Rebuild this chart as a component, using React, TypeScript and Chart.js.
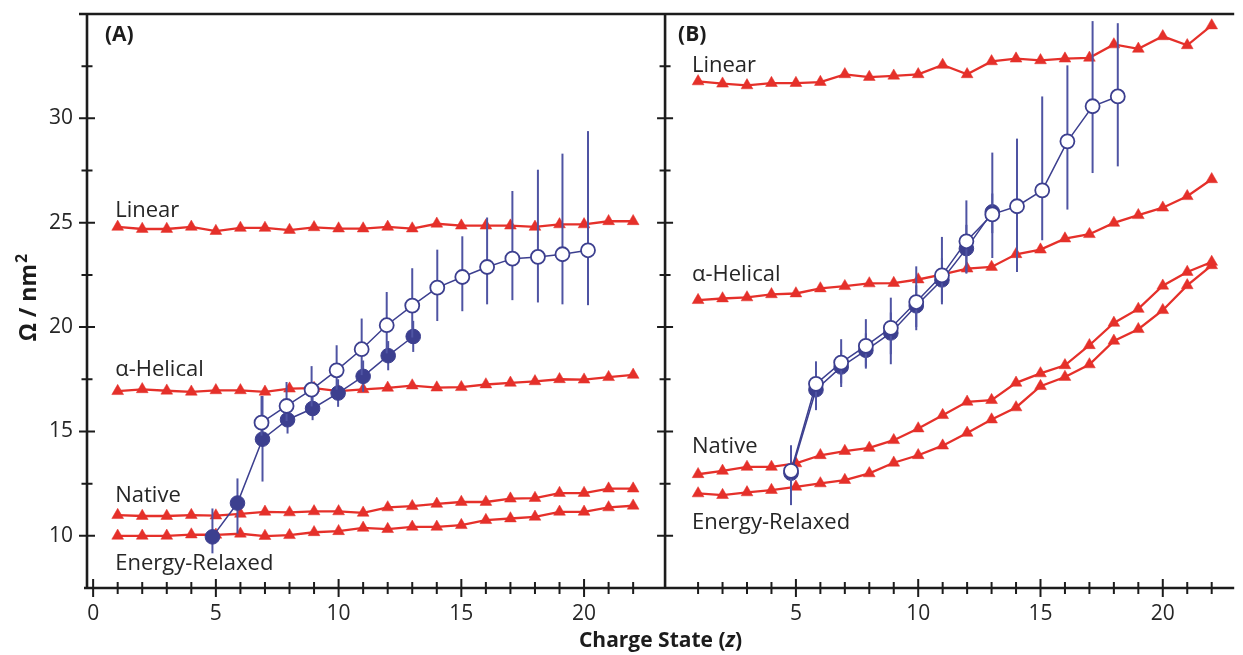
import React, { useEffect, useRef } from 'react';
import { Chart, registerables } from 'chart.js';

Chart.register(...registerables);

// ---------- data ----------
const CHARGE_STATES = [1, 2, 3, 4, 5, 6, 7, 8, 9, 10, 11, 12, 13, 14, 15, 16, 17, 18, 19, 20, 21, 22];

// Panel A (computed, red triangles)
const A_LINEAR = [24.8, 24.7, 24.7, 24.8, 24.6, 24.75, 24.75, 24.65, 24.78, 24.72, 24.72, 24.8, 24.72, 24.95, 24.86, 24.86, 24.86, 24.8, 24.92, 24.92, 25.07, 25.07];
const A_HELICAL = [16.93, 17.02, 16.95, 16.9, 16.97, 16.97, 16.9, 17.05, 17.08, 16.93, 17.02, 17.09, 17.2, 17.1, 17.12, 17.25, 17.33, 17.4, 17.5, 17.48, 17.6, 17.71];
const A_NATIVE = [10.99, 10.95, 10.95, 10.99, 10.97, 11.05, 11.15, 11.12, 11.17, 11.17, 11.1, 11.36, 11.42, 11.53, 11.62, 11.62, 11.78, 11.81, 12.05, 12.05, 12.26, 12.26];
const A_RELAXED = [10.0, 10.0, 10.0, 10.06, 10.05, 10.1, 9.99, 10.03, 10.17, 10.22, 10.38, 10.32, 10.43, 10.43, 10.51, 10.75, 10.83, 10.91, 11.15, 11.15, 11.36, 11.44];

// Panel B (computed, red triangles)
const B_LINEAR = [31.77, 31.66, 31.58, 31.69, 31.69, 31.74, 32.11, 31.98, 32.04, 32.11, 32.56, 32.11, 32.73, 32.86, 32.78, 32.86, 32.9, 33.54, 33.33, 33.93, 33.5, 34.45];
const B_HELICAL = [21.29, 21.37, 21.42, 21.57, 21.61, 21.85, 21.96, 22.09, 22.11, 22.28, 22.52, 22.8, 22.88, 23.49, 23.71, 24.24, 24.45, 24.99, 25.36, 25.72, 26.27, 27.08];
const B_NATIVE = [12.95, 13.11, 13.3, 13.3, 13.47, 13.86, 14.06, 14.21, 14.58, 15.14, 15.78, 16.42, 16.5, 17.33, 17.78, 18.17, 19.13, 20.2, 20.87, 21.98, 22.64, 23.12];
const B_RELAXED = [12.03, 11.95, 12.08, 12.19, 12.35, 12.51, 12.67, 12.99, 13.5, 13.86, 14.32, 14.93, 15.57, 16.15, 17.17, 17.61, 18.21, 19.34, 19.9, 20.81, 22.0, 22.96];

// Panel A experiment, filled circles
const A_FILLED_Z = [4.86, 5.88, 6.9, 7.92, 8.94, 9.98, 11.0, 12.02, 13.04];
const A_FILLED = [9.95, 11.57, 14.63, 15.56, 16.1, 16.84, 17.64, 18.63, 19.55];
const A_FILLED_LOW = [9.16, 10.11, 12.6, 14.9, 15.54, 16.18, 16.9, 17.93, 18.81];
const A_FILLED_HIGH = [11.31, 12.75, 16.7, 16.2, 16.66, 17.5, 18.4, 19.33, 20.3];

// Panel A experiment, open circles
const A_OPEN_Z = [6.86, 7.88, 8.9, 9.92, 10.94, 11.96, 13.0, 14.02, 15.04, 16.05, 17.08, 18.12, 19.12, 20.16];
const A_OPEN = [15.42, 16.22, 17.0, 17.93, 18.94, 20.09, 21.03, 21.89, 22.4, 22.88, 23.28, 23.36, 23.49, 23.68];
const A_OPEN_LOW = [14.8, 15.5, 16.2, 17.0, 17.7, 18.74, 19.5, 20.29, 20.76, 21.09, 21.29, 21.18, 21.09, 21.05];
const A_OPEN_HIGH = [16.7, 17.37, 18.13, 19.13, 20.41, 21.68, 22.82, 23.71, 24.35, 25.25, 26.52, 27.54, 28.31, 29.39];

// Panel B experiment, filled circles
const B_FILLED_Z = [4.8, 5.82, 6.85, 7.86, 8.88, 9.92, 10.97, 11.97, 13.03];
const B_FILLED = [13.0, 17.0, 18.09, 18.89, 19.72, 21.02, 22.26, 23.76, 25.52];
const B_FILLED_LOW = [12.0, 16.1, 17.3, 18.1, 18.7, 20.0, 21.2, 22.6, 24.5];
const B_FILLED_HIGH = [14.0, 17.9, 18.9, 19.7, 20.7, 22.0, 23.3, 24.9, 26.4];

// Panel B experiment, open circles
const B_OPEN_Z = [4.8, 5.82, 6.85, 7.86, 8.88, 9.92, 10.97, 11.97, 13.03, 14.04, 15.07, 16.1, 17.13, 18.16];
const B_OPEN = [13.11, 17.28, 18.3, 19.1, 19.96, 21.2, 22.48, 24.11, 25.4, 25.79, 26.55, 28.9, 30.58, 31.05];
const B_OPEN_LOW = [11.47, 16.02, 17.13, 18.01, 18.22, 19.85, 21.09, 22.56, 23.31, 22.64, 24.16, 25.63, 27.38, 27.7];
const B_OPEN_HIGH = [14.34, 18.36, 19.42, 20.38, 21.41, 22.91, 24.32, 26.07, 28.36, 29.03, 31.05, 32.54, 34.66, 34.56];

// ---------- ticks ----------
const X_TICKS_A = [0, 5, 10, 15, 20];
const X_TICKS_B = [5, 10, 15, 20];
const X_MINOR = [1, 2, 3, 4, 6, 7, 8, 9, 11, 12, 13, 14, 16, 17, 18, 19, 21, 22];
const Y_TICKS = [10, 15, 20, 25, 30];
const Y_MINOR = [12.5, 17.5, 22.5, 27.5, 32.5];

// ---------- styles ----------
const RED = '#e5302a';
const BLUE = '#3c3f8f';
const BAR_BLUE = '#4f54a3';
const INK = '#1c1c1c';
const TEXT = '#262626';
const FONT = '"Open Sans", "DejaVu Sans", sans-serif';

const zip = (xs: number[], ys: number[]) => xs.map((x, i) => ({ x, y: ys[i] }));

function redSet(label: string, values: number[], axis: string, order: number) {
  return {
    label,
    data: zip(CHARGE_STATES, values),
    xAxisID: axis,
    yAxisID: 'y',
    borderColor: RED,
    backgroundColor: RED,
    borderWidth: 2.3,
    pointStyle: 'triangle',
    pointRadius: 6.8,
    pointBorderWidth: 0.5,
    pointBorderColor: RED,
    pointBackgroundColor: RED,
    tension: 0,
    clip: false,
    order,
  };
}

function blueSet(label: string, xs: number[], ys: number[], lo: number[], hi: number[], axis: string, filled: boolean, order: number) {
  return {
    label,
    data: zip(xs, ys),
    errLow: lo,
    errHigh: hi,
    xAxisID: axis,
    yAxisID: 'y',
    borderColor: BLUE,
    backgroundColor: filled ? BLUE : '#ffffff',
    borderWidth: 1.5,
    pointStyle: 'circle',
    pointRadius: filled ? 7.3 : 7,
    pointBorderWidth: filled ? 1 : 1.8,
    pointBorderColor: BLUE,
    pointBackgroundColor: filled ? BLUE : '#ffffff',
    tension: 0,
    clip: false,
    order,
  };
}

const errorBarPlugin = {
  id: 'errorBars',
  beforeDatasetDraw(chart: any, args: any) {
    const ds = chart.data.datasets[args.index];
    if (!ds.errLow) return;
    const xs = chart.scales[ds.xAxisID];
    const ys = chart.scales.y;
    const ctx = chart.ctx;
    ctx.save();
    ctx.strokeStyle = BAR_BLUE;
    ctx.lineWidth = 2;
    ds.data.forEach((p: any, i: number) => {
      const px = xs.getPixelForValue(p.x);
      ctx.beginPath();
      ctx.moveTo(px, ys.getPixelForValue(ds.errLow[i]));
      ctx.lineTo(px, ys.getPixelForValue(ds.errHigh[i]));
      ctx.stroke();
    });
    ctx.restore();
  },
};

const framePlugin = {
  id: 'frame',
  afterDraw(chart: any) {
    const { ctx, chartArea: ca, scales } = chart;
    const xA = scales.xA;
    const xB = scales.xB;
    const y = scales.y;
    const divX = xA.right;
    ctx.save();
    ctx.strokeStyle = INK;
    ctx.lineCap = 'butt';

    // frame lines
    ctx.lineWidth = 2.6;
    ctx.beginPath();
    ctx.moveTo(ca.left - 8, ca.top);
    ctx.lineTo(ca.right, ca.top);
    ctx.moveTo(ca.left - 3, ca.bottom);
    ctx.lineTo(ca.right, ca.bottom);
    ctx.moveTo(ca.left, ca.top);
    ctx.lineTo(ca.left, ca.bottom + 1.3);
    ctx.moveTo(divX, ca.top);
    ctx.lineTo(divX, ca.bottom + 1.3);
    ctx.stroke();

    // y ticks on both vertical axes
    ctx.lineWidth = 2;
    ctx.beginPath();
    [ca.left, divX].forEach((vx: number) => {
      Y_TICKS.forEach((v) => {
        const py = y.getPixelForValue(v);
        ctx.moveTo(vx - 8, py);
        ctx.lineTo(vx + 8, py);
      });
      Y_MINOR.forEach((v) => {
        const py = y.getPixelForValue(v);
        ctx.moveTo(vx - 5.5, py);
        ctx.lineTo(vx + 5.5, py);
      });
    });
    // x ticks
    const xt = (scale: any, majors: number[]) => {
      majors.forEach((v) => {
        const px = scale.getPixelForValue(v);
        ctx.moveTo(px, ca.bottom - 9);
        ctx.lineTo(px, ca.bottom + 9);
      });
      X_MINOR.forEach((v) => {
        const px = scale.getPixelForValue(v);
        ctx.moveTo(px, ca.bottom - 6);
        ctx.lineTo(px, ca.bottom + 6);
      });
    };
    xt(xA, X_TICKS_A);
    xt(xB, X_TICKS_B);
    ctx.stroke();

    // panel tags
    ctx.fillStyle = INK;
    ctx.textBaseline = 'alphabetic';
    ctx.textAlign = 'left';
    ctx.font = `bold 21px ${FONT}`;
    ctx.fillText('(A)', xA.left + 18, ca.top + 26.5);
    ctx.fillText('(B)', xB.left + 13, ca.top + 26.5);

    // series labels (anchored in data units)
    ctx.fillStyle = TEXT;
    ctx.font = `22px ${FONT}`;
    const labels: [any, string, number, number][] = [
      [xA, 'Linear', 0.9, 25.26],
      [xA, 'α-Helical', 0.9, 17.65],
      [xA, 'Native', 0.9, 11.63],
      [xA, 'Energy-Relaxed', 0.9, 8.36],
      [xB, 'Linear', 0.75, 32.24],
      [xB, 'α-Helical', 0.75, 22.2],
      [xB, 'Native', 0.75, 13.95],
      [xB, 'Energy-Relaxed', 0.75, 10.35],
    ];
    labels.forEach(([s, t, lx, ly]) => {
      ctx.fillText(t, s.getPixelForValue(lx), y.getPixelForValue(ly));
    });

    // x axis title
    ctx.fillStyle = INK;
    const part1 = 'Charge State (';
    const part2 = 'z';
    const part3 = ')';
    ctx.font = `bold 21px ${FONT}`;
    const w1 = ctx.measureText(part1).width;
    const w3 = ctx.measureText(part3).width;
    ctx.font = `italic bold 21px ${FONT}`;
    const w2 = ctx.measureText(part2).width;
    const total = w1 + w2 + w3;
    const cx = (ca.left + ca.right) / 2;
    const by = ca.bottom + 59;
    let sx = cx - total / 2;
    ctx.font = `bold 21px ${FONT}`;
    ctx.fillText(part1, sx, by);
    sx += w1;
    ctx.font = `italic bold 21px ${FONT}`;
    ctx.fillText(part2, sx, by);
    sx += w2;
    ctx.font = `bold 21px ${FONT}`;
    ctx.fillText(part3, sx, by);

    // y axis title
    ctx.save();
    ctx.translate(36, (ca.top + ca.bottom) / 2 - 3);
    ctx.rotate(-Math.PI / 2);
    ctx.font = `bold 23px ${FONT}`;
    const m = 'Ω / nm';
    const wm = ctx.measureText(m).width;
    ctx.font = `bold 16px ${FONT}`;
    const ws = ctx.measureText('2').width;
    const st = -(wm + ws) / 2;
    ctx.font = `bold 23px ${FONT}`;
    ctx.fillText(m, st, 0);
    ctx.font = `bold 16px ${FONT}`;
    ctx.fillText('2', st + wm + 1, -9);
    ctx.restore();

    ctx.restore();
  },
};

function xScale(min: number, max: number, ticks: number[], weight: number) {
  return {
    type: 'linear',
    axis: 'x',
    position: 'bottom',
    stack: 'panels',
    stackWeight: weight,
    min,
    max,
    grid: { display: false, drawTicks: false },
    border: { display: false },
    afterBuildTicks: (s: any) => {
      s.ticks = ticks.map((v) => ({ value: v }));
    },
    afterFit: (s: any) => {
      s.height = 67;
      s.paddingLeft = 0;
      s.paddingRight = 0;
      s.paddingTop = 0;
      s.paddingBottom = 0;
    },
    ticks: {
      padding: 13,
      color: TEXT,
      font: { family: FONT, size: 21 },
      maxRotation: 0,
      autoSkip: false,
    },
  };
}

export default function App() {
  const ref = useRef<HTMLCanvasElement | null>(null);

  useEffect(() => {
    if (!ref.current) return;
    const chart = new Chart(ref.current, {
      type: 'line',
      data: {
        datasets: [
          blueSet('A open', A_OPEN_Z, A_OPEN, A_OPEN_LOW, A_OPEN_HIGH, 'xA', false, 0),
          blueSet('A filled', A_FILLED_Z, A_FILLED, A_FILLED_LOW, A_FILLED_HIGH, 'xA', true, 1),
          blueSet('B open', B_OPEN_Z, B_OPEN, B_OPEN_LOW, B_OPEN_HIGH, 'xB', false, 2),
          blueSet('B filled', B_FILLED_Z, B_FILLED, B_FILLED_LOW, B_FILLED_HIGH, 'xB', true, 3),
          redSet('A Linear', A_LINEAR, 'xA', 5),
          redSet('A α-Helical', A_HELICAL, 'xA', 5),
          redSet('A Native', A_NATIVE, 'xA', 5),
          redSet('A Energy-Relaxed', A_RELAXED, 'xA', 5),
          redSet('B Linear', B_LINEAR, 'xB', 5),
          redSet('B α-Helical', B_HELICAL, 'xB', 5),
          redSet('B Native', B_NATIVE, 'xB', 5),
          redSet('B Energy-Relaxed', B_RELAXED, 'xB', 5),
        ] as any,
      },
      options: {
        responsive: false,
        animation: false,
        devicePixelRatio: 1,
        events: [],
        layout: { padding: { left: 0, right: 0, top: 14, bottom: 0 } },
        plugins: {
          legend: { display: false },
          tooltip: { enabled: false },
          title: { display: false },
        },
        scales: {
          xA: xScale(-0.25, 23.3, X_TICKS_A, 582.5),
          xB: xScale(-0.35, 22.92, X_TICKS_B, 573.5),
          y: {
            type: 'linear',
            position: 'left',
            min: 7.5,
            max: 35,
            grid: { display: false, drawTicks: false },
            border: { display: false },
            afterBuildTicks: (s: any) => {
              s.ticks = Y_TICKS.map((v) => ({ value: v }));
            },
            afterFit: (s: any) => {
              s.width = 87;
              s.paddingLeft = 0;
              s.paddingRight = 0;
              s.paddingTop = 0;
              s.paddingBottom = 0;
            },
            ticks: {
              padding: 14,
              color: TEXT,
              font: { family: FONT, size: 21 },
            },
          },
        } as any,
      },
      plugins: [errorBarPlugin, framePlugin],
    });
    return () => chart.destroy();
  }, []);

  return (
    <div style={{ position: 'fixed', left: 0, top: 0, width: 1243, height: 655, background: '#ffffff' }}>
      <canvas ref={ref} width={1243} height={655} style={{ display: 'block' }} />
    </div>
  );
}
